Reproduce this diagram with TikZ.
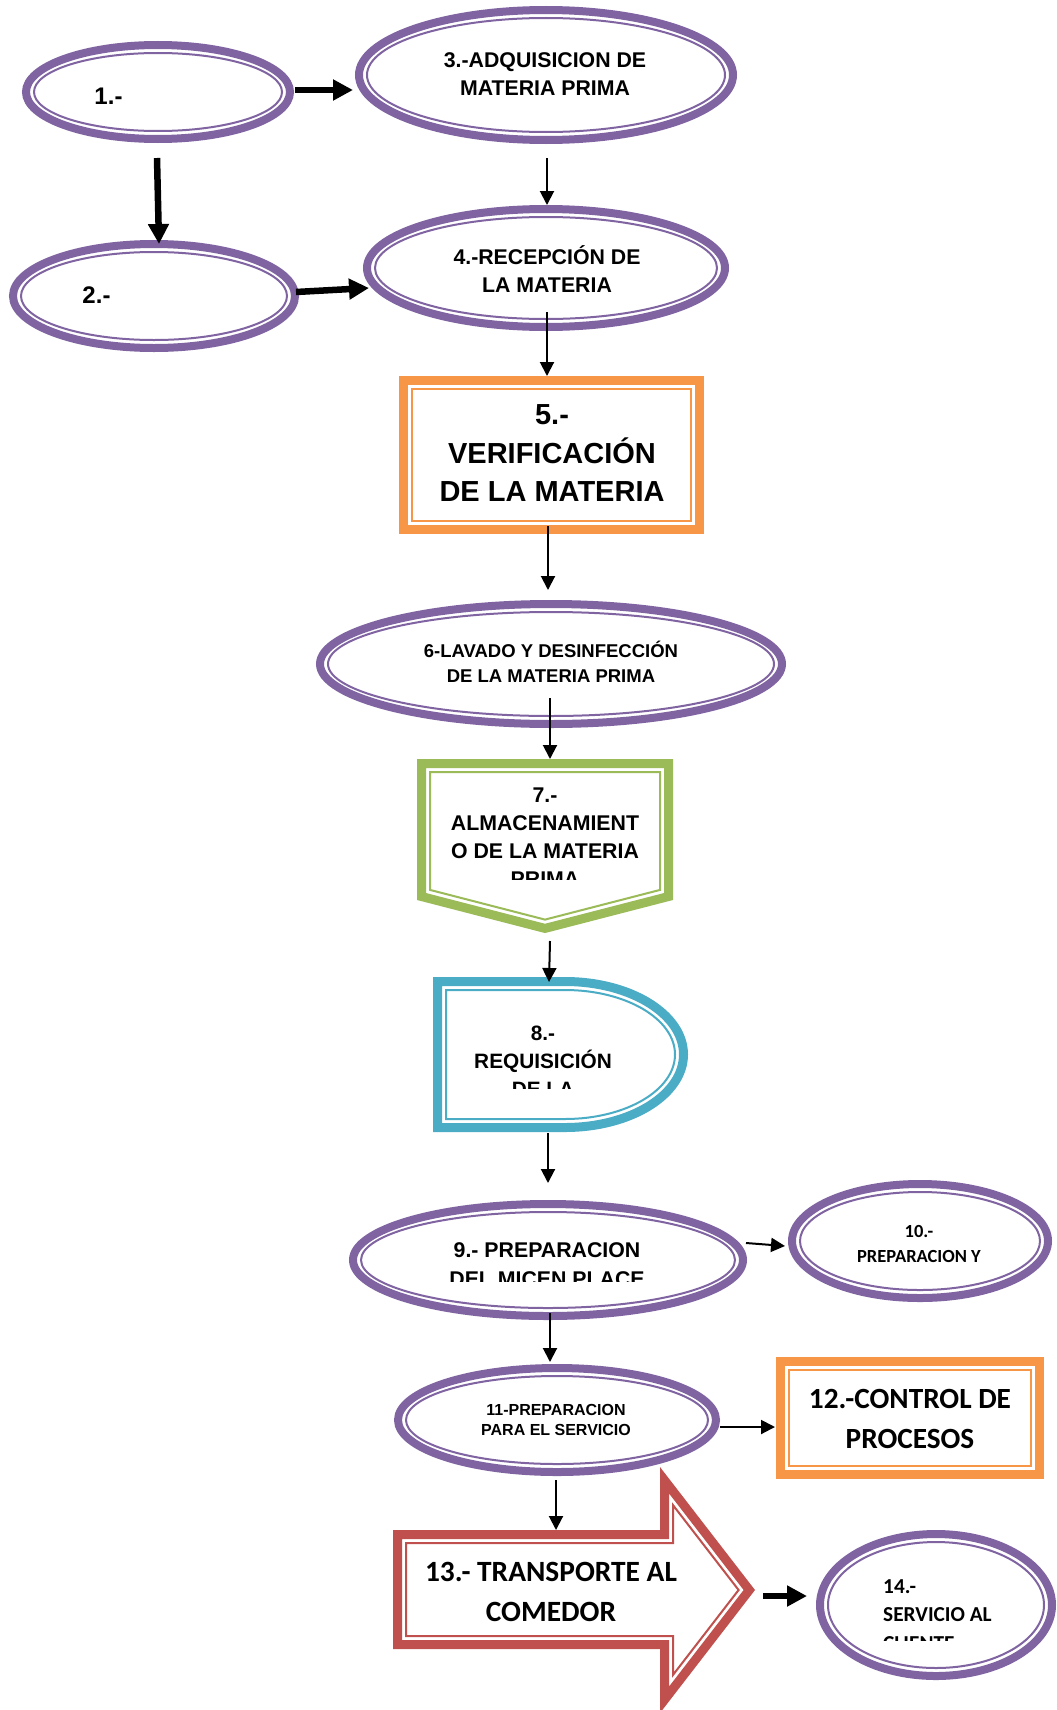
\documentclass[tikz,border=0pt]{standalone}
\usepackage{fontspec}
\setmainfont{Liberation Sans}
\newfontfamily\calibrifont{Carlito}
\usetikzlibrary{arrows.meta,calc,shapes.geometric}

\definecolor{ringpurple}{HTML}{8064A2}
\definecolor{boxorange}{HTML}{F79646}
\definecolor{storegreen}{HTML}{9BBB59}
\definecolor{delayblue}{HTML}{4BACC6}
\definecolor{movered}{HTML}{C0504D}

\tikzset{
  ring/.style={ellipse, draw=ringpurple, line width=8pt, inner sep=0pt},
  thinline/.style={line width=2pt, line join=miter},
  frame/.style={rectangle, line width=9pt, inner sep=0pt},
  anchorbox/.style={rectangle, draw=none, inner sep=0pt, outer sep=0pt},
  band/.style={line width=9pt, line join=miter},
  thk/.style={line width=6.5pt, -{Triangle[length=20pt,width=20pt]}},
  thn/.style={line width=2pt, -{Triangle[length=14pt,width=14pt]}},
  lbl/.style={inner sep=0pt, align=center, text=black},
  arialtext/.style 2 args={font=\bfseries\fontsize{#1}{#2}\selectfont},
  calibtext/.style 2 args={font=\calibrifont\bfseries\fontsize{#1}{#2}\selectfont},
}

% double purple ring: thick outer stroke and thin inner stroke
\newcommand\ringnode[5]{%
  \node[ring, minimum width={2*#4-8}, minimum height={2*#5-8}] (#1) at (#2,#3) {};
  \draw[thinline, ringpurple] (#1.center) ellipse [x radius={#4pt-12pt}, y radius={#5pt-12pt}];
}

\begin{document}
\begin{tikzpicture}[x=1pt, y=-1pt]
\useasboundingbox (0,0) rectangle (1057,1710);
\fill[white] (0,0) rectangle (1057,1710);

% ---- rings ----
\ringnode{e1}{158}{92}{136}{51}
\ringnode{e3}{546}{75}{191}{69}
\ringnode{e2}{154}{296}{145}{56}
\ringnode{e4}{546}{268}{183}{63}
\ringnode{e6}{551}{664}{235}{64}
\ringnode{e9}{548}{1260}{199}{60}
\ringnode{e10}{920}{1241}{132}{61}
\ringnode{e11}{557}{1420}{163}{56}
\ringnode{e14}{936}{1605}{120}{75}

% ---- framed boxes ----
\node[frame, draw=boxorange, minimum width=296, minimum height=149] (b5) at (551.5,455) {};
\draw[thinline, boxorange] ($(b5.north west)+(13,13)$) rectangle ($(b5.south east)+(-13,-13)$);

\node[frame, draw=boxorange, minimum width=259, minimum height=113] (b12) at (910,1418) {};
\draw[thinline, boxorange] ($(b12.north west)+(13,13)$) rectangle ($(b12.south east)+(-13,-13)$);

% ---- storage pentagon ----
\node[anchorbox, minimum width=256, minimum height=174] (s7) at (545,846) {};
\draw[band, storegreen] (421.5,763.5) -- (668.5,763.5) -- (668.5,896.5) -- (545,928.4) -- (421.5,896.5) -- cycle;
\draw[thinline, storegreen] (430,772) -- (660,772) -- (660,889.9) -- (545,919.6) -- (430,889.9) -- cycle;

% ---- delay shape ----
\node[anchorbox, minimum width=255, minimum height=155] (s8) at (560.5,1054.5) {};
\draw[band, delayblue] (437.5,981.5) -- (565,981.5)
  arc[start angle=90, end angle=-90, x radius=118.5pt, y radius=73pt] -- (437.5,1127.5) -- cycle;
\draw[thinline, delayblue] (446,990) -- (565,990)
  arc[start angle=90, end angle=-90, x radius=110pt, y radius=64.5pt] -- (446,1119) -- cycle;

% ---- block arrow ----
\node[anchorbox, minimum width=362, minimum height=246] (s13) at (574,1590) {};
\draw[band, movered] (397.5,1534.5) -- (664.5,1534.5) -- (664.5,1480.2) -- (749.3,1590)
  -- (664.5,1699.8) -- (664.5,1644.5) -- (397.5,1644.5) -- cycle;
\draw[thinline, movered] (406,1543) -- (673,1543) -- (673,1505.1) -- (738.6,1590)
  -- (673,1674.9) -- (673,1636) -- (406,1636) -- cycle;

% ---- texts ----
\node[lbl, arialtext={24}{28}] (t1) at (108.5,96) {1.-};
\node[lbl, arialtext={24}{28}] (t2) at (96.5,295) {2.-};
\node[lbl, arialtext={21.3}{27.5}] (t3) at (545,74) {3.-ADQUISICION DE\\MATERIA PRIMA};
\node[lbl, arialtext={21.3}{27.5}] (t4) at (547,269) {4.-RECEPCIÓN DE\\LA MATERIA};
\node[lbl, arialtext={29}{38.5}] (t5) at (552,453.5) {5.-\\VERIFICACIÓN\\DE LA MATERIA};
\node[lbl, arialtext={18.5}{25}] (t6) at (551,662) {6-LAVADO Y DESINFECCIÓN\\DE LA MATERIA PRIMA};
\begin{scope}
  \clip (425,775) rectangle (665,879);
  \node[lbl, arialtext={21.3}{28}] (t7) at (545,837) {7.-\\ALMACENAMIENT\\O DE LA MATERIA\\PRIMA};
\end{scope}
\begin{scope}
  \clip (440,1000) rectangle (670,1088);
  \node[lbl, arialtext={20.8}{28}] (t8) at (543,1061.5) {8.-\\REQUISICIÓN\\DE LA};
\end{scope}
\begin{scope}
  \clip (400,1225) rectangle (700,1281);
  \node[lbl, arialtext={21.3}{29}] (t9) at (547,1265) {9.- PREPARACION\\DEL MICEN PLACE};
\end{scope}
\node[lbl, calibtext={18.5}{25.5}] (t10) at (919,1244) {10.-\\PREPARACION Y};
\node[lbl, arialtext={16}{20}] (t11) at (556,1420) {11-PREPARACION\\PARA EL SERVICIO};
\node[lbl, calibtext={29.3}{40}] (t12) at (910,1419) {12.-CONTROL DE\\PROCESOS};
\node[lbl, calibtext={29.4}{40}] (t13) at (551,1592) {13.- TRANSPORTE AL\\COMEDOR};
\begin{scope}
  \clip (870,1560) rectangle (1040,1640);
  \node[lbl, calibtext={21.3}{28.7}, align=left, anchor=west] (t14) at (883,1615) {14.-\\SERVICIO AL\\CLIENTE};
\end{scope}

% ---- connectors ----
\draw[thk] ($(e1.east)+(1,-2)$) -- ($(e3.west)+(-2,15)$);
\draw[thk] ($(e1.south)+(-1,15)$) -- ($(e2.north)+(5,4)$);
\draw[thk] ($(e2.east)+(-3,-4)$) -- ($(e4.west)+(6,20)$);
\draw[thn] ($(e3.south)+(1,14)$) -- ($(e4.north)+(1,0)$);
\draw[thn] ($(e4.south)+(1,-19)$) -- ($(b5.north)+(-4.5,0)$);
\draw[thn] ($(b5.south)+(-3.5,-8)$) -- ($(e6.north)+(-3,-10)$);
\draw[thn] ($(e6.south)+(-1,-30)$) -- ($(s7.north)+(5,0)$);
\draw[thn] ($(s7.south)+(5,8)$) -- ($(s8.north)+(-11.5,5)$);
\draw[thn] ($(s8.south)+(-12.5,1)$) -- ($(e9.north)+(0,-17)$);
\draw[thn] ($(e9.east)+(-1,-17)$) -- ($(e10.west)+(-3,5)$);
\draw[thn] ($(e9.south)+(2,-7)$) -- ($(e11.north)+(-7,-2)$);
\draw[thn] ($(e11.east)+(0,7)$) -- ($(b12.west)+(-1,9)$);
\draw[thn] ($(e11.south)+(-1,4)$) -- ($(s13.north)+(-18,63)$);
\draw[thk] ($(s13.east)+(8,6)$) -- ($(e14.west)+(-9,-9)$);
\end{tikzpicture}
\end{document}
